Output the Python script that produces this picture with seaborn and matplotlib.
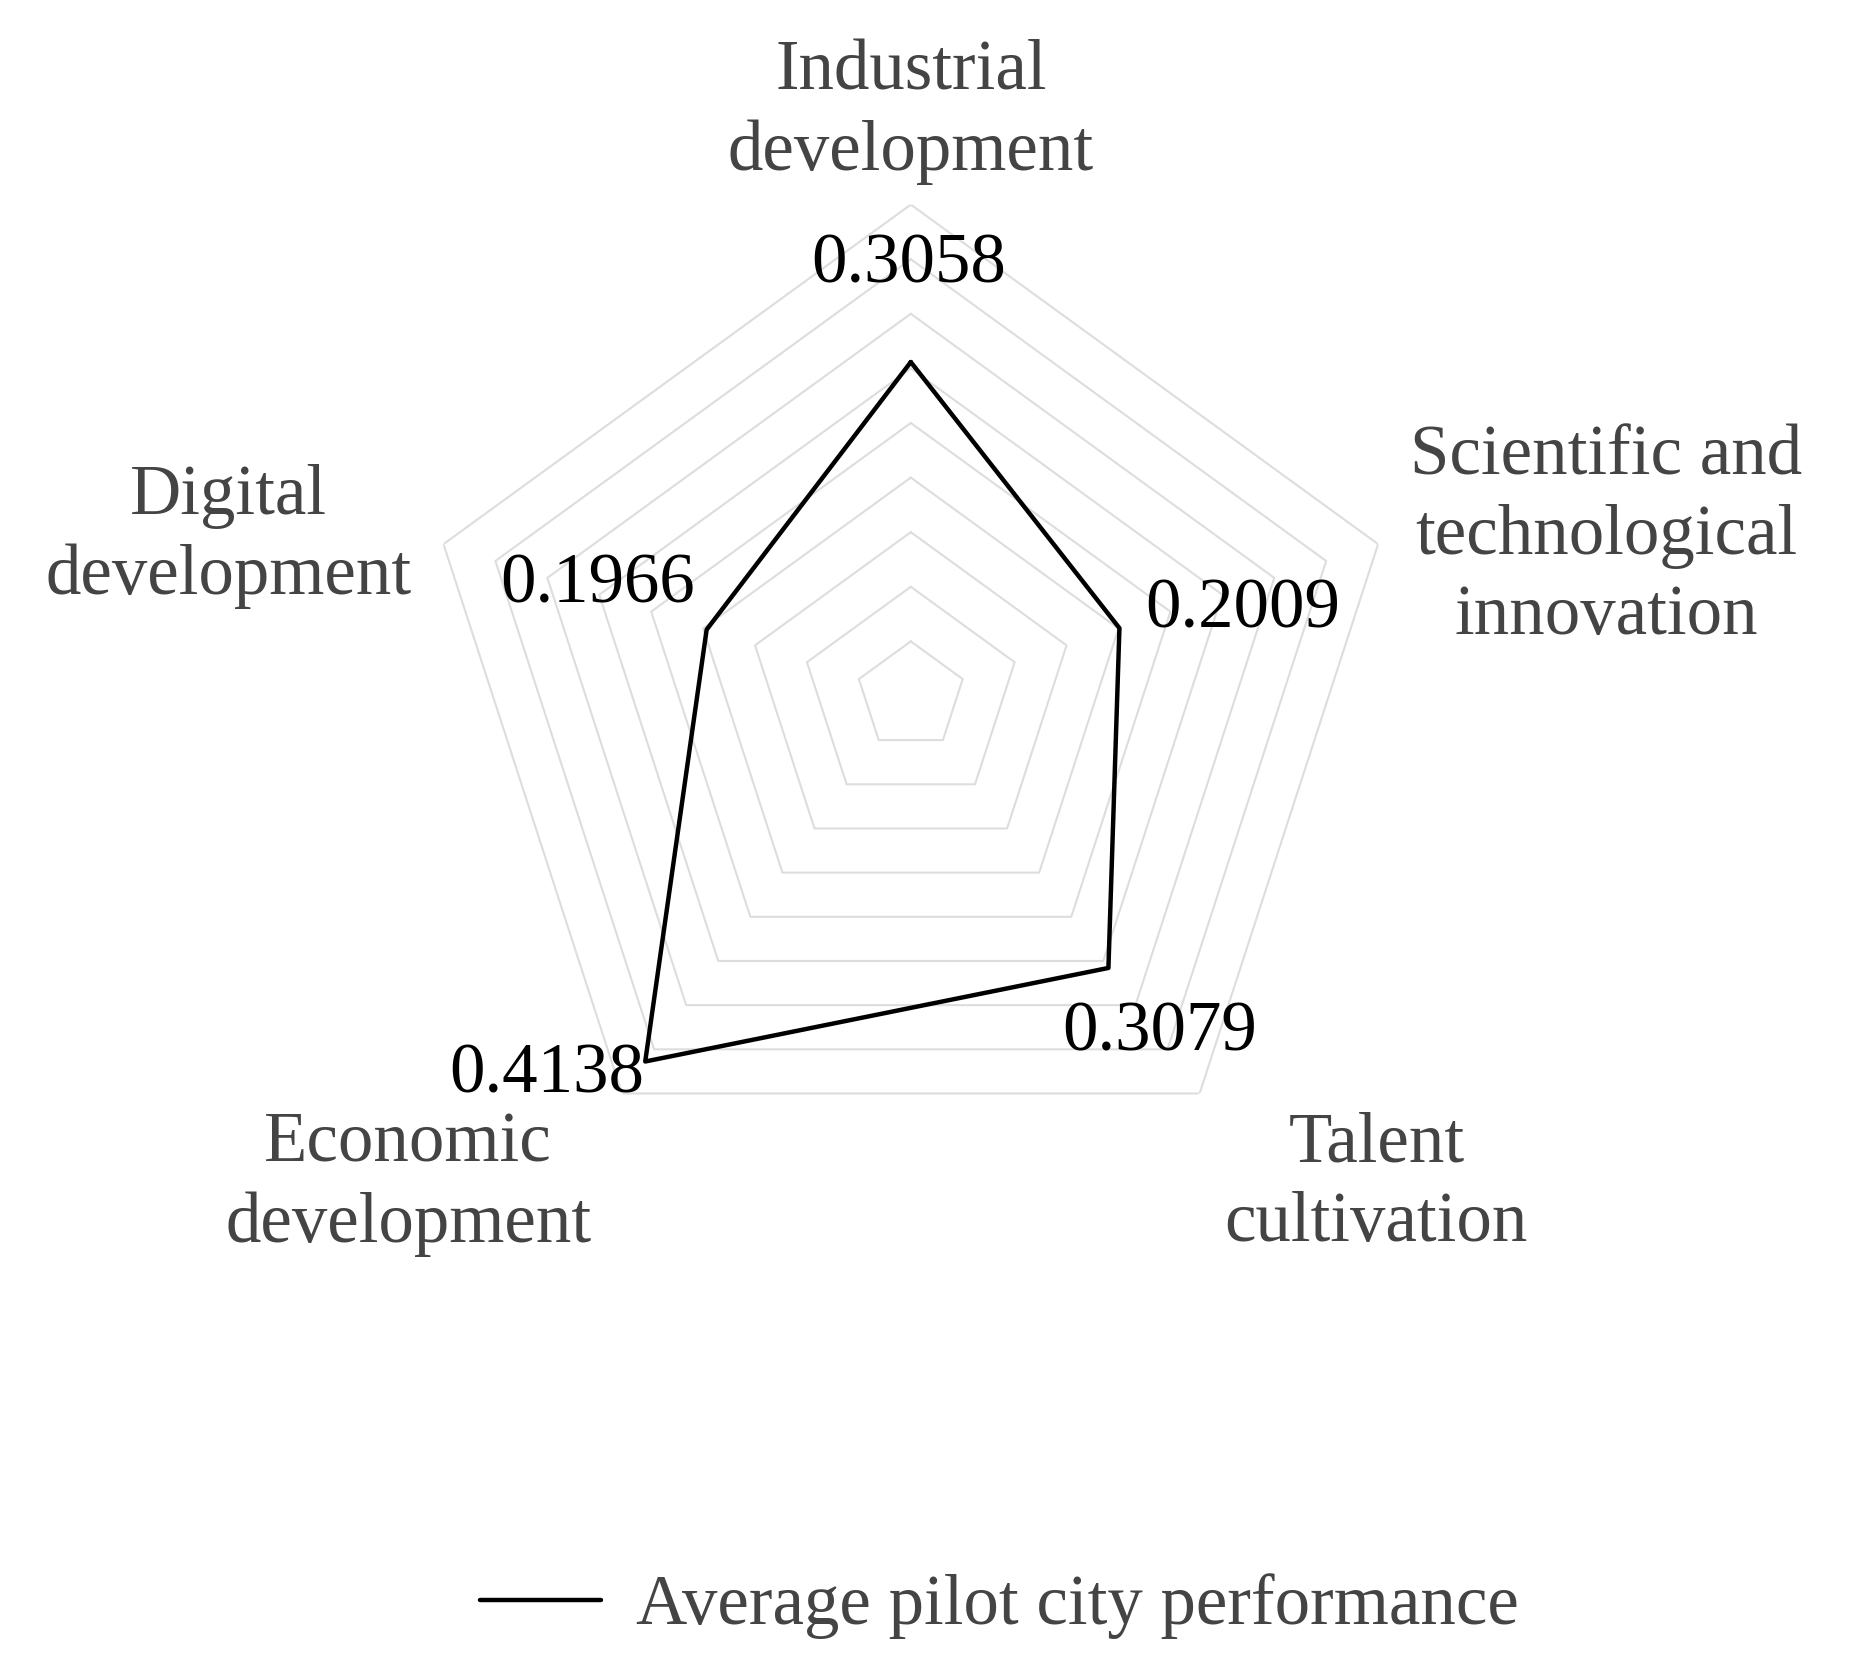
import numpy as np
import pandas as pd
import matplotlib
matplotlib.use("Agg")
import matplotlib.pyplot as plt
import seaborn as sns

categories = ["Industrial\ndevelopment", "Scientific and\ntechnological\ninnovation",
              "Talent\ncultivation", "Economic\ndevelopment", "Digital\ndevelopment"]
values = [0.3058, 0.2009, 0.3079, 0.4138, 0.1966]
value_labels = ["0.3058", "0.2009", "0.3079", "0.4138", "0.1966"]
series_name = "Average pilot city performance"
rings = [0.05, 0.10, 0.15, 0.20, 0.25, 0.30, 0.35, 0.40, 0.45]

sns.set_theme(style="white")
plt.rcParams['font.family'] = ['Liberation Serif', 'DejaVu Serif']

fig = plt.figure(figsize=(18.55, 16.77), dpi=100)
ax = fig.add_axes([0.226, 0.292, 0.53, 0.586], projection="polar")
ax.set_theta_offset(np.pi / 2)
ax.set_theta_direction(-1)
n = len(categories)
ang = np.arange(n) * 2 * np.pi / n
closed = np.append(ang, 2 * np.pi)
for r in rings:
    ax.plot(closed, [r] * (n + 1), color="#dddddd", lw=1.5, zorder=1)
df = pd.DataFrame({"theta": closed, "r": values + [values[0]], "s": series_name})
sns.lineplot(data=df, x="theta", y="r", sort=False, estimator=None, color="black", lw=3.2,
             ax=ax, label=series_name, legend=False, zorder=3)
ax.set_ylim(0, 0.45)
ax.grid(False)
ax.set_xticks([]); ax.set_yticks([])
ax.spines["polar"].set_visible(False)
ax.set_xlabel(""); ax.set_ylabel("")

lab_pos = [(0.491, 0.933), (0.866, 0.680), (0.742, 0.294), (0.220, 0.294), (0.123, 0.680)]
val_pos = [(0.490, 0.842), (0.670, 0.636), (0.625, 0.384), (0.295, 0.359), (0.322, 0.651)]
for c, (x, y) in zip(categories, lab_pos):
    fig.text(x, y, c, ha="center", va="center", fontsize=51, color="#444444", linespacing=1.3)
for v, (x, y) in zip(value_labels, val_pos):
    fig.text(x, y, v, ha="center", va="center", fontsize=51, color="black")

h, l = ax.get_legend_handles_labels()
fig.legend(h, l, loc="center", bbox_to_anchor=(0.539, 0.042), frameon=False,
           fontsize=51, handlelength=1.7, handletextpad=0.5, labelcolor="#444444")
fig.savefig("out.png", dpi=100, facecolor="white")
